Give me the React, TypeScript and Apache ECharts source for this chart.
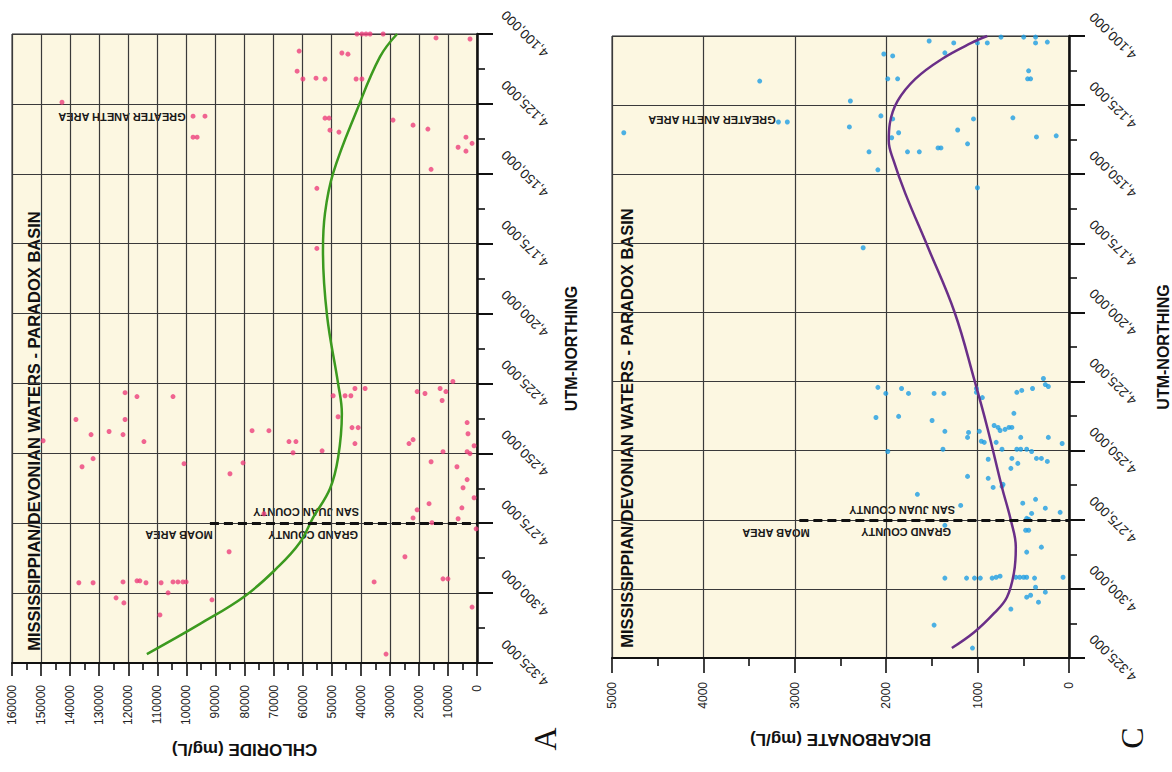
import React, { useEffect, useRef } from "react";
import * as echarts from "echarts";

const FONT = "'Liberation Sans', Arial, Helvetica, sans-serif";
const SERIF = "'Liberation Serif', 'DejaVu Serif', 'Times New Roman', serif";

// Axis ranges / ticks
const northingMin = 4100000;
const northingMax = 4325000;
const northingStep = 25000;
const chlorideMax = 160000;
const chlorideStep = 10000;
const bicarbonateMax = 5000;
const bicarbonateStep = 1000;

const countyBoundaryNorthing = 4275000;
const chlorideBoundaryStart = 91900;
const bicarbonateBoundaryStart = 2950;

const titleText = "MISSISSIPPIAN/DEVONIAN WATERS - PARADOX BASIN";
const northingName = "UTM-NORTHING";
const chlorideName = "CHLORIDE (mg/L)";
const bicarbonateName = "BICARBONATE (mg/L)";
const anethLabel = "GREATER ANETH AREA";
const moabLabel = "MOAB AREA";
const grandLabel = "GRAND COUNTY";
const sanJuanLabel = "SAN JUAN COUNTY";
const panelLetters = ["A", "C"];

// [chloride mg/L, UTM northing]
const chlorideSamples: [number, number][] = [
  [142800, 4124400], [97700, 4129400], [93600, 4129400], [97700, 4136900], [96300, 4136900],
  [61200, 4106100], [61900, 4113300], [59900, 4116100], [55400, 4115800], [52300, 4116100],
  [41300, 4100000], [39600, 4100000], [38200, 4100000], [36800, 4100000], [32300, 4100000],
  [46500, 4106800], [44400, 4107200], [41600, 4116100], [39600, 4116100], [52300, 4130100],
  [50900, 4130100], [50600, 4134400], [47500, 4135100], [28900, 4130800], [22000, 4132600],
  [16900, 4134000], [14100, 4101400], [2400, 4101800], [3800, 4136900], [6500, 4140500],
  [3800, 4141900], [1700, 4139100], [15800, 4148400], [55100, 4155200], [55100, 4176700],
  [121100, 4228300], [117000, 4229700], [104600, 4229700], [138000, 4237900], [121100, 4237900],
  [149300, 4245500], [132800, 4243300], [126600, 4242200], [121800, 4243300], [114600, 4245800],
  [132100, 4251900], [135900, 4254800], [100800, 4253700], [85000, 4257300], [80500, 4253400],
  [77400, 4241900], [71600, 4241900], [64700, 4245800], [62300, 4245800], [63300, 4249800],
  [53300, 4249100], [49500, 4229400], [45400, 4229400], [43400, 4229400], [42000, 4226800],
  [38500, 4226800], [47800, 4236900], [43000, 4240800], [40900, 4240800], [42000, 4246500],
  [20600, 4227900], [17900, 4228600], [12700, 4226800], [10700, 4227900], [12000, 4231100],
  [8300, 4224300], [3400, 4239000], [3100, 4243000], [23400, 4246500], [22000, 4245100],
  [11700, 4249400], [3400, 4249400], [2400, 4250100], [1000, 4247300], [15800, 4253000],
  [6900, 4254800], [3400, 4259400], [4800, 4262300], [137000, 4296300], [132100, 4296300],
  [121800, 4296000], [117000, 4295600], [116000, 4295600], [113900, 4296300], [108700, 4296300],
  [104600, 4296000], [102900, 4296000], [101200, 4296000], [100100, 4296000], [124200, 4301700],
  [121500, 4303500], [109100, 4307800], [106300, 4299900], [91200, 4302400], [85300, 4285200],
  [73300, 4271600], [1000, 4265900], [16500, 4268000], [20600, 4270200], [22000, 4273100],
  [5200, 4269500], [6500, 4273400], [15500, 4274800], [300, 4277000], [24800, 4287000],
  [35400, 4296000], [11700, 4294900], [10000, 4294900], [1700, 4305000], [31300, 4321800],
];

const chlorideTrend: [number, number][] = [
  [27500, 4100000], [33400, 4108200], [41300, 4127200], [49500, 4149800], [52300, 4164100],
  [53000, 4177400], [51600, 4200700], [47800, 4225000], [46500, 4235800], [47800, 4251600],
  [50600, 4262700], [56400, 4273000], [61000, 4282000], [68800, 4291000], [79800, 4301000],
  [95300, 4311000], [113600, 4321800],
];

// [bicarbonate mg/L, UTM northing]
const bicarbonateSamples: [number, number][] = [
  [3384, 4116300], [2392, 4123500], [2403, 4132900], [3082, 4131100], [3179, 4131100],
  [4871, 4135000], [2188, 4141900], [2091, 4148400], [2058, 4128900], [2026, 4106500],
  [2252, 4176600], [1530, 4101800], [1261, 4102500], [1358, 4106100], [1929, 4107200],
  [1983, 4115500], [1875, 4115500], [1002, 4102500], [894, 4102500], [744, 4100400],
  [496, 4100400], [366, 4100400], [366, 4102500], [237, 4102200], [442, 4112600],
  [453, 4115500], [420, 4115500], [1929, 4130000], [1864, 4135000], [1940, 4136800],
  [1218, 4134000], [1045, 4130000], [614, 4129600], [356, 4136500], [140, 4136100],
  [1110, 4139000], [1433, 4140500], [1401, 4140500], [1767, 4141900], [1638, 4141900],
  [1002, 4154900], [2091, 4227100], [2112, 4238000], [2004, 4229300], [1832, 4227500],
  [1756, 4229300], [1476, 4229300], [1369, 4229300], [1864, 4237600], [1498, 4239100],
  [1358, 4243000], [1983, 4250300], [1379, 4249500], [1013, 4227500], [1013, 4228900],
  [948, 4230800], [1099, 4243400], [1110, 4245200], [981, 4243000], [959, 4246600],
  [927, 4247000], [819, 4240900], [776, 4241600], [754, 4242700], [700, 4242300],
  [657, 4241600], [625, 4241600], [797, 4247000], [733, 4249500], [603, 4236500],
  [571, 4228900], [517, 4228200], [399, 4227500], [280, 4223900], [259, 4226100],
  [226, 4226800], [528, 4245200], [226, 4245200], [75, 4247400], [571, 4249500],
  [528, 4249500], [463, 4249500], [409, 4250300], [625, 4252800], [560, 4254600],
  [356, 4252800], [302, 4252800], [237, 4253900], [636, 4256400], [884, 4253100],
  [1110, 4259300], [884, 4260000], [830, 4263300], [733, 4262900], [722, 4262200],
  [1659, 4265800], [1185, 4269800], [1358, 4277000], [506, 4269000], [366, 4267600],
  [259, 4270800], [409, 4272700], [97, 4272300], [463, 4274500], [442, 4274800],
  [474, 4278800], [442, 4278800], [302, 4284900], [463, 4286700], [1358, 4296100],
  [1121, 4296100], [1034, 4296100], [970, 4296100], [841, 4296100], [797, 4295800],
  [754, 4295400], [582, 4295800], [539, 4295800], [496, 4295800], [463, 4295800],
  [377, 4296100], [65, 4295800], [366, 4299400], [259, 4301200], [420, 4302300],
  [463, 4303000], [334, 4304800], [636, 4307300], [1476, 4313100], [1056, 4321400],
];

const bicarbonateTrend: [number, number][] = [
  [894, 4100000], [1067, 4102500], [1390, 4108300], [1681, 4115500], [1875, 4123500],
  [1961, 4131800], [1972, 4137900], [1918, 4145200], [1789, 4157100], [1541, 4176600],
  [1250, 4200100], [1034, 4224600], [894, 4241600], [733, 4263300], [636, 4275200],
  [582, 4284900], [603, 4294300], [679, 4303000], [819, 4308800], [1034, 4315600],
  [1282, 4321400],
];

const fmtNorthing = (v: number) => v.toLocaleString("en-US");
const fmtPlain = (v: number) => String(v);

function valueAxis(gridIndex: number, max: number, step: number, name: string, nameGap: number, labelMargin: number, tickLen: number, minorLen: number) {
  return {
    gridIndex,
    type: "value",
    min: 0,
    max,
    interval: step,
    inverse: true,
    position: "bottom",
    name,
    nameLocation: "middle",
    nameGap,
    nameRotate: 180,
    nameTextStyle: { fontFamily: FONT, fontWeight: "bold", fontSize: 17, color: "#111" },
    axisLine: { show: true, onZero: false, lineStyle: { color: "#111", width: 2 } },
    axisTick: { show: true, length: tickLen, lineStyle: { color: "#111", width: 1.6 } },
    minorTick: { show: true, splitNumber: 2, length: minorLen, lineStyle: { color: "#111", width: 1.6 } },
    axisLabel: { rotate: 90, margin: labelMargin, fontFamily: FONT, fontSize: 12, color: "#222", hideOverlap: false, formatter: fmtPlain },
    splitLine: { show: true, lineStyle: { color: "#3a3a3a", width: 1.2 } },
  };
}

function northingAxis(gridIndex: number, labelMargin: number) {
  return {
    gridIndex,
    type: "value",
    min: northingMin,
    max: northingMax,
    interval: northingStep,
    inverse: true,
    position: "right",
    name: northingName,
    nameLocation: "middle",
    nameGap: 86,
    nameRotate: 90,
    nameTextStyle: { fontFamily: FONT, fontWeight: "bold", fontSize: 16, color: "#111" },
    axisLine: { show: true, onZero: false, lineStyle: { color: "#111", width: 2.5 } },
    axisTick: { show: true, length: 16, lineStyle: { color: "#111", width: 2 } },
    minorTick: { show: true, splitNumber: 2, length: 8, lineStyle: { color: "#111", width: 1.6 } },
    axisLabel: {
      rotate: 135,
      align: "center",
      verticalAlign: "middle",
      margin: labelMargin,
      fontFamily: FONT,
      fontSize: 13.5,
      color: "#222",
      formatter: fmtNorthing,
      hideOverlap: false,
    },
    splitLine: { show: true, lineStyle: { color: "#3a3a3a", width: 1.2 } },
  };
}

function boundaryLine(start: number) {
  return {
    silent: true,
    symbol: ["none", "none"],
    label: { show: false },
    lineStyle: { type: [9, 5], color: "#111", width: 3 },
    data: [[{ coord: [start, countyBoundaryNorthing] }, { coord: [0, countyBoundaryNorthing] }]],
  };
}

const upsideText = (text: string, x: number, y: number, align: string) => ({
  type: "text",
  x,
  y,
  rotation: Math.PI,
  silent: true,
  style: { text, fill: "#1a1a1a", font: `600 11px ${FONT}`, align, verticalAlign: "middle" },
});

const verticalText = (text: string, x: number, y: number, font: string) => ({
  type: "text",
  x,
  y,
  rotation: Math.PI / 2,
  silent: true,
  style: { text, fill: "#111", font, align: "center", verticalAlign: "middle" },
});

export default function App() {
  const ref = useRef<HTMLDivElement>(null);

  useEffect(() => {
    if (!ref.current) return;
    const chart = echarts.init(ref.current, null, { renderer: "svg" });
    const gridStyle = { show: true, backgroundColor: "#fcf7e1", borderColor: "#222", borderWidth: 1 };
    chart.setOption({
      animation: false,
      backgroundColor: "#ffffff",
      grid: [
        { ...gridStyle, left: 12, right: 695, top: 34, bottom: 109 },
        { ...gridStyle, left: 612, right: 98, top: 36, bottom: 114 },
      ],
      xAxis: [
        valueAxis(0, chlorideMax, chlorideStep, chlorideName, 78, 22, 13, 7),
        valueAxis(1, bicarbonateMax, bicarbonateStep, bicarbonateName, 73, 24, 15, 8),
      ],
      yAxis: [northingAxis(0, 48), northingAxis(1, 44)],
      series: [
        {
          type: "scatter",
          xAxisIndex: 0,
          yAxisIndex: 0,
          data: chlorideSamples,
          symbolSize: 5,
          itemStyle: { color: "#ec3f7c" },
          markLine: boundaryLine(chlorideBoundaryStart),
        },
        {
          type: "line",
          xAxisIndex: 0,
          yAxisIndex: 0,
          data: chlorideTrend,
          smooth: 0.4,
          showSymbol: false,
          lineStyle: { color: "#3c9a1f", width: 2.5 },
        },
        {
          type: "scatter",
          xAxisIndex: 1,
          yAxisIndex: 1,
          data: bicarbonateSamples,
          symbolSize: 5,
          itemStyle: { color: "#1e9de3" },
          markLine: boundaryLine(bicarbonateBoundaryStart),
        },
        {
          type: "line",
          xAxisIndex: 1,
          yAxisIndex: 1,
          data: bicarbonateTrend,
          smooth: 0.4,
          showSymbol: false,
          lineStyle: { color: "#6a2f88", width: 2.5 },
        },
      ],
      graphic: [
        verticalText(titleText, 34, 431, `bold 16.5px ${FONT}`),
        verticalText(titleText, 627, 428, `bold 16.5px ${FONT}`),
        upsideText(anethLabel, 122, 117, "center"),
        upsideText(anethLabel, 712, 120, "center"),
        upsideText(moabLabel, 179, 535, "center"),
        upsideText(moabLabel, 776, 533, "center"),
        upsideText(grandLabel, 358, 535, "left"),
        upsideText(grandLabel, 951, 532, "left"),
        upsideText(sanJuanLabel, 359, 512, "left"),
        upsideText(sanJuanLabel, 955, 510, "left"),
        verticalText(panelLetters[0], 545, 739, `32px ${SERIF}`),
        verticalText(panelLetters[1], 1132, 738, `32px ${SERIF}`),
      ],
    });
    return () => chart.dispose();
  }, []);

  return (
    <div
      ref={ref}
      style={{ position: "fixed", left: 0, top: 0, width: 1172, height: 772, background: "#fff" }}
    />
  );
}
